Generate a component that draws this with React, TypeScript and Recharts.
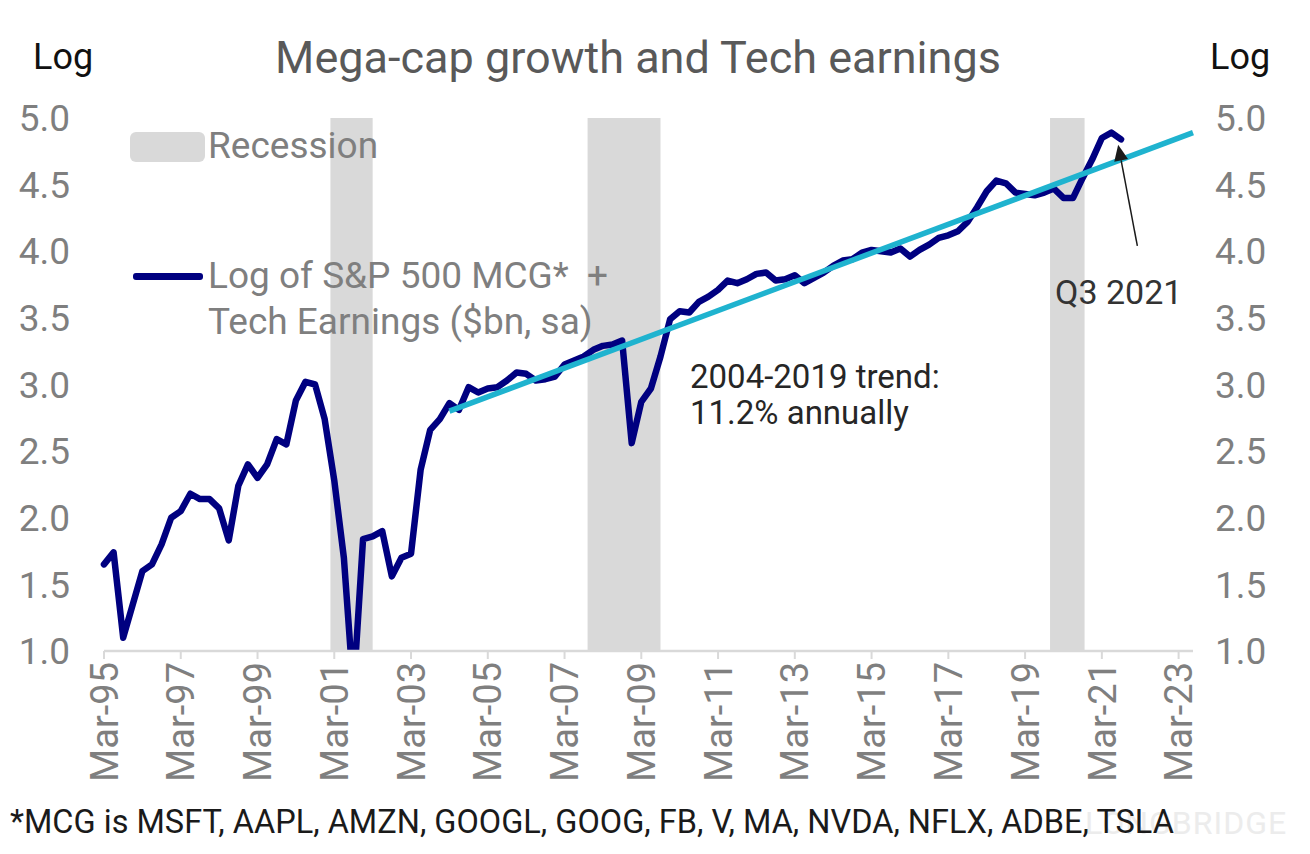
import { LineChart, Line, XAxis, YAxis, ReferenceArea, ReferenceLine } from 'recharts'

// log of S&P 500 MCG + Tech earnings, quarterly from Mar-95 to Sep-21 (Q3 2021)
const mcgLog = [
  1.65, 1.74, 1.10, 1.35, 1.60, 1.65, 1.80, 2.00, // 95-96
  2.05, 2.18, 2.14, 2.14, 2.07, 1.83, 2.24, 2.40, // 97-98
  2.30, 2.40, 2.59, 2.55, 2.88, 3.02, 3.00, 2.74, // 99-00
  2.28, 1.70, 0.70, 1.84, 1.86, 1.90, 1.56, 1.70, // 01-02
  1.73, 2.36, 2.66, 2.74, 2.86, 2.81, 2.98, 2.94, // 03-04
  2.97, 2.98, 3.03, 3.09, 3.08, 3.03, 3.04, 3.06, // 05-06
  3.15, 3.18, 3.21, 3.26, 3.29, 3.30, 3.33, 2.56, // 07-08
  2.87, 2.97, 3.21, 3.49, 3.55, 3.54, 3.62, 3.66, // 09-10
  3.71, 3.78, 3.76, 3.79, 3.83, 3.84, 3.78, 3.79, // 11-12
  3.82, 3.76, 3.80, 3.84, 3.89, 3.93, 3.94, 3.99, // 13-14
  4.01, 4.00, 3.99, 4.02, 3.96, 4.01, 4.05, 4.10, // 15-16
  4.12, 4.15, 4.22, 4.33, 4.45, 4.53, 4.51, 4.44, // 17-18
  4.43, 4.42, 4.44, 4.47, 4.40, 4.40, 4.55, 4.69, // 19-20
  4.85, 4.89, 4.84, // 21
]

// 2004-2019 trend line (quarter index, log value) at both ends
const trendQ = [36, 113.5]
const trendLog = [2.8, 4.89]

// recession shading, in quarter index units
const recessionStart = [23.6, 50.4, 98.6]
const recessionEnd = [28.0, 58.0, 102.2]

const xTicks = [0, 8, 16, 24, 32, 40, 48, 56, 64, 72, 80, 88, 96, 104, 112]
const xTickLabels = [
  'Mar-95', 'Mar-97', 'Mar-99', 'Mar-01', 'Mar-03', 'Mar-05', 'Mar-07', 'Mar-09',
  'Mar-11', 'Mar-13', 'Mar-15', 'Mar-17', 'Mar-19', 'Mar-21', 'Mar-23',
]
const yTicks = [1, 1.5, 2, 2.5, 3, 3.5, 4, 4.5, 5]

// arrow pointing at the Q3 2021 value
const arrowTail = { q: 107.7, v: 4.04 }
const arrowHead = { q: 105.7, v: 4.8 }

type Row = { q: number; mcg?: number; trend?: number }
const rows: Row[] = mcgLog.map((v, q) => ({ q, mcg: v }))
trendQ.forEach((q, k) => {
  const r = rows.find(r => r.q === q)
  if (r) r.trend = trendLog[k]
  else rows.push({ q, trend: trendLog[k] })
})

const GRAY = '#7f7f7f'
const FONT = 'Roboto, "Liberation Sans", sans-serif'

function XTick({ x, y, payload }: any) {
  const label = xTickLabels[xTicks.indexOf(payload.value)]
  return (
    <text
      x={x}
      y={y}
      transform={`rotate(-90 ${x} ${y})`}
      textAnchor="end"
      dy="0.36em"
      fill={GRAY}
      fontSize={38}
      fontFamily={FONT}
    >
      {label}
    </text>
  )
}

function Arrow(props: any) {
  const { x1, y1, x2, y2 } = props
  const ang = Math.atan2(y2 - y1, x2 - x1)
  const len = 16
  const w = 7
  const bx = x2 - len * Math.cos(ang)
  const by = y2 - len * Math.sin(ang)
  const px = -Math.sin(ang) * w
  const py = Math.cos(ang) * w
  return (
    <g>
      <line x1={x1} y1={y1} x2={bx} y2={by} stroke="#1a1a1a" strokeWidth={1.5} />
      <polygon points={`${x2},${y2} ${bx + px},${by + py} ${bx - px},${by - py}`} fill="#1a1a1a" />
    </g>
  )
}

export default function App() {
  return (
    <div style={{ position: 'absolute', left: 0, top: 0, width: 1310, height: 854, background: '#fff', fontFamily: FONT }}>
      <div style={{ position: 'absolute', left: 0, width: 1276, top: 30, textAlign: 'center', fontSize: 45, color: '#595959', lineHeight: '56px' }}>
        Mega-cap growth and Tech earnings
      </div>
      <div style={{ position: 'absolute', left: 33, top: 35, fontSize: 36, color: '#111', lineHeight: '44px' }}>Log</div>
      <div style={{ position: 'absolute', left: 1210, top: 35, fontSize: 36, color: '#111', lineHeight: '44px' }}>Log</div>

      <LineChart
        width={1310}
        height={854}
        data={rows}
        margin={{ top: 118, right: 17, bottom: 43, left: 14 }}
        style={{ position: 'absolute', left: 0, top: 0 }}
      >
        {recessionStart.map((s, i) => (
          <ReferenceArea
            key={i}
            yAxisId="left"
            x1={s}
            x2={recessionEnd[i]}
            y1={1}
            y2={5}
            fill="#d9d9d9"
            fillOpacity={1}
            stroke="none"
          />
        ))}
        <XAxis
          dataKey="q"
          type="number"
          domain={[0, 113.5]}
          ticks={xTicks}
          interval={0}
          height={160}
          axisLine={{ stroke: '#d9d9d9', strokeWidth: 2.5 }}
          tickLine={{ stroke: '#d9d9d9', strokeWidth: 2 }}
          tickSize={8}
          tickMargin={3}
          tick={<XTick />}
        />
        <YAxis
          yAxisId="left"
          domain={[1, 5]}
          ticks={yTicks}
          allowDataOverflow
          width={90}
          axisLine={false}
          tickLine={false}
          tickSize={0}
          tickMargin={34}
          tick={{ fill: GRAY, fontSize: 37, fontFamily: FONT }}
          tickFormatter={(v: number) => v.toFixed(1)}
        />
        <YAxis
          yAxisId="right"
          orientation="right"
          domain={[1, 5]}
          ticks={yTicks}
          allowDataOverflow
          width={100}
          axisLine={false}
          tickLine={false}
          tickSize={0}
          tickMargin={22}
          tick={{ fill: GRAY, fontSize: 37, fontFamily: FONT }}
          tickFormatter={(v: number) => v.toFixed(1)}
        />
        <Line
          yAxisId="left"
          dataKey="mcg"
          type="linear"
          stroke="#000080"
          strokeWidth={6.5}
          strokeLinejoin="round"
          strokeLinecap="round"
          dot={false}
          isAnimationActive={false}
        />
        <Line
          yAxisId="left"
          dataKey="trend"
          type="linear"
          stroke="#1fb3cf"
          strokeWidth={5.5}
          connectNulls
          dot={false}
          isAnimationActive={false}
        />
        <ReferenceLine
          yAxisId="left"
          segment={[{ x: arrowTail.q, y: arrowTail.v }, { x: arrowHead.q, y: arrowHead.v }]}
          ifOverflow="visible"
          shape={Arrow}
        />
      </LineChart>

      {/* legend */}
      <div style={{ position: 'absolute', left: 130, top: 132, width: 75, height: 30, borderRadius: 6, background: '#d9d9d9' }} />
      <div style={{ position: 'absolute', left: 208, top: 124, fontSize: 37, color: GRAY, lineHeight: '44px' }}>Recession</div>
      <div style={{ position: 'absolute', left: 133, top: 273, width: 70, height: 6.5, borderRadius: 3, background: '#000080' }} />
      <div style={{ position: 'absolute', left: 208, top: 253, fontSize: 37, color: GRAY, lineHeight: '46px', whiteSpace: 'pre' }}>
        {'Log of S&P 500 MCG*  +\nTech Earnings ($bn, sa)'}
      </div>

      {/* annotations */}
      <div style={{ position: 'absolute', left: 690, top: 359, fontSize: 33, color: '#262626', lineHeight: '36px', whiteSpace: 'pre' }}>
        {'2004-2019 trend:\n11.2% annually'}
      </div>
      <div style={{ position: 'absolute', left: 1055, top: 272, fontSize: 34, color: '#333', lineHeight: '40px' }}>Q3 2021</div>

      {/* footer */}
      <div style={{ position: 'absolute', left: 1085, top: 803, fontSize: 32, color: '#ececec', lineHeight: '40px', letterSpacing: 1 }}>LONGBRIDGE</div>
      <div style={{ position: 'absolute', left: 10, top: 802, fontSize: 32.5, color: '#1a1a1a', lineHeight: '40px', whiteSpace: 'nowrap' }}>
        *MCG is MSFT, AAPL, AMZN, GOOGL, GOOG, FB, V, MA, NVDA, NFLX, ADBE, TSLA
      </div>
    </div>
  )
}
